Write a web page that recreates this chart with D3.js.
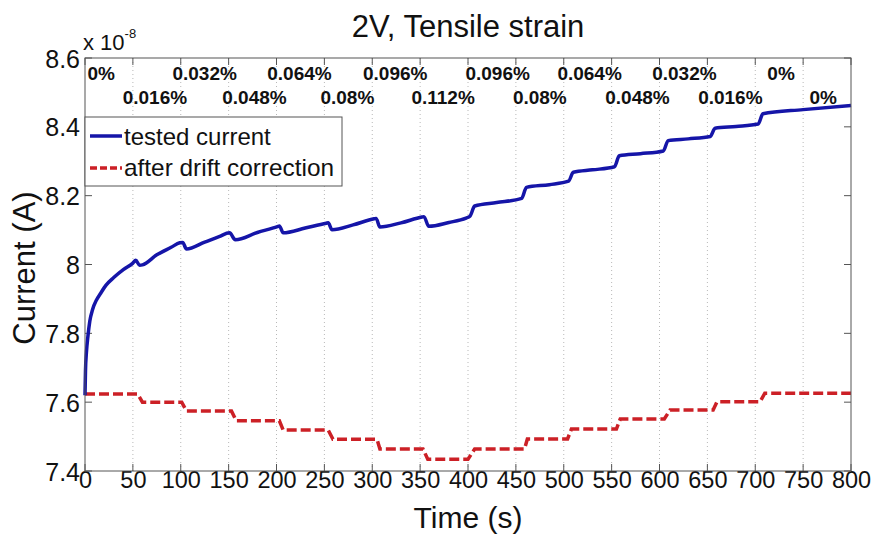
<!DOCTYPE html>
<html>
<head>
<meta charset="utf-8">
<script src="https://cdn.jsdelivr.net/npm/d3@7"></script>
<style>
  html, body { margin: 0; padding: 0; background: #fff; }
  svg { display: block; font-family: Arial, "Liberation Sans", Helvetica, sans-serif; }
</style>
</head>
<body>
<svg id="chart" width="874" height="537"></svg>
<script>
// ---- data (current in units of 1e-8 A, time in s) ----
const blueTime = [0, 0.5, 1.5, 3, 5, 8, 12, 16, 22, 30, 40, 50, 53, 57, 60, 75, 90, 99, 102, 106, 125, 140, 151, 157, 180, 201, 203, 207, 230, 252, 254, 258, 280, 302, 304, 308, 330, 352, 354, 359, 380, 398, 402, 407, 430, 456, 461, 485, 505, 510, 530, 553, 558, 580, 604, 609, 630, 653, 658, 680, 703, 708, 750, 800];
const blueCurrent = [7.62, 7.69, 7.745, 7.79, 7.835, 7.87, 7.897, 7.915, 7.94, 7.962, 7.985, 8.004, 8.012, 7.998, 7.999, 8.028, 8.05, 8.063, 8.064, 8.045, 8.065, 8.081, 8.092, 8.072, 8.093, 8.110, 8.112, 8.092, 8.106, 8.120, 8.121, 8.101, 8.115, 8.133, 8.134, 8.109, 8.121, 8.138, 8.139, 8.111, 8.122, 8.135, 8.140, 8.170, 8.180, 8.192, 8.224, 8.232, 8.242, 8.268, 8.275, 8.284, 8.316, 8.322, 8.330, 8.360, 8.365, 8.372, 8.396, 8.401, 8.408, 8.438, 8.450, 8.462];

const redTime = [0, 55, 60, 101, 106, 153, 158, 203, 207, 254, 259, 305, 308, 353, 358, 400, 407, 459, 462, 504, 508, 555, 559, 605, 611, 656, 660, 705, 710, 800];
const redCurrent = [7.624, 7.624, 7.600, 7.600, 7.574, 7.574, 7.546, 7.546, 7.519, 7.519, 7.492, 7.492, 7.464, 7.464, 7.434, 7.434, 7.464, 7.464, 7.493, 7.493, 7.522, 7.522, 7.551, 7.551, 7.577, 7.577, 7.601, 7.601, 7.626, 7.626];

const strainRow1Labels = ["0%", "0.032%", "0.064%", "0.096%", "0.096%", "0.064%", "0.032%", "0%"];
const strainRow1Time   = [17, 125, 224, 324, 431, 527, 626, 727];
const strainRow2Labels = ["0.016%", "0.048%", "0.08%", "0.112%", "0.08%", "0.048%", "0.016%", "0%"];
const strainRow2Time   = [73, 177, 274, 374, 475, 577, 674, 771];

const xTicks = [0, 50, 100, 150, 200, 250, 300, 350, 400, 450, 500, 550, 600, 650, 700, 750, 800];
const yTicks = [7.4, 7.6, 7.8, 8.0, 8.2, 8.4, 8.6];
const yTickLabels = ["7.4", "7.6", "7.8", "8", "8.2", "8.4", "8.6"];

const titleText = "2V, Tensile strain";
const xLabel = "Time (s)";
const yLabel = "Current (A)";
const seriesNames = ["tested current", "after drift correction"];

// ---- layout ----
const L = 85, R = 851, T = 58, B = 471;
const svg = d3.select("#chart");
const x = d3.scaleLinear().domain([0, 800]).range([L, R]);
const y = d3.scaleLinear().domain([7.4, 8.6]).range([B, T]);
const axisColor = "#555";

// grid (vertical dotted)
svg.append("g").selectAll("line")
  .data(xTicks.filter(d => d > 0 && d < 800))
  .join("line")
  .attr("x1", d => x(d)).attr("x2", d => x(d))
  .attr("y1", T).attr("y2", B)
  .attr("stroke", "#b8b8b8").attr("stroke-width", 1)
  .attr("stroke-dasharray", "1,3");

// axes with inward ticks
const bottomAxis = d3.axisBottom(x).tickValues(xTicks).tickSize(0).tickPadding(0).tickFormat(d3.format("d"));
const gB = svg.append("g").attr("transform", `translate(0,${B})`).call(bottomAxis);
gB.select(".domain").remove();
gB.selectAll("text").attr("y", 17).attr("dy", 0).attr("font-size", 23.5).attr("fill", "#111")
  .attr("font-family", "Arial, 'Liberation Sans', sans-serif");

const leftAxis = d3.axisLeft(y).tickValues(yTicks).tickSize(0).tickPadding(0)
  .tickFormat((d, i) => yTickLabels[i]);
const gL = svg.append("g").attr("transform", `translate(${L},0)`).call(leftAxis);
gL.select(".domain").remove();
gL.selectAll("text").attr("x", -5).attr("dy", "0.36em").attr("font-size", 25).attr("fill", "#111")
  .attr("font-family", "Arial, 'Liberation Sans', sans-serif");

// inward tick marks
const tickG = svg.append("g").attr("stroke", axisColor).attr("stroke-width", 1);
xTicks.forEach(d => {
  tickG.append("line").attr("x1", x(d)).attr("x2", x(d)).attr("y1", B).attr("y2", B - 7);
  tickG.append("line").attr("x1", x(d)).attr("x2", x(d)).attr("y1", T).attr("y2", T + 7);
});
yTicks.forEach(d => {
  tickG.append("line").attr("x1", L).attr("x2", L + 7).attr("y1", y(d)).attr("y2", y(d));
  tickG.append("line").attr("x1", R).attr("x2", R - 7).attr("y1", y(d)).attr("y2", y(d));
});

// data lines
const blueData = blueTime.map((t, i) => [t, blueCurrent[i]]);
const redData = redTime.map((t, i) => [t, redCurrent[i]]);
const line = d3.line().x(d => x(d[0])).y(d => y(d[1])).curve(d3.curveMonotoneX);
const lineLin = d3.line().x(d => x(d[0])).y(d => y(d[1]));

svg.append("path").datum(redData).attr("d", lineLin)
  .attr("fill", "none").attr("stroke", "#cc2026").attr("stroke-width", 3.5)
  .attr("stroke-dasharray", "10,4");
svg.append("path").datum(blueData).attr("d", line)
  .attr("fill", "none").attr("stroke", "#1515a8").attr("stroke-width", 3.5)
  .attr("stroke-linejoin", "round");

// plot box
svg.append("rect").attr("x", L).attr("y", T).attr("width", R - L).attr("height", B - T)
  .attr("fill", "none").attr("stroke", axisColor).attr("stroke-width", 1);

// strain annotations
const ann = svg.append("g").attr("font-weight", "bold").attr("font-size", 19)
  .attr("fill", "#111").attr("text-anchor", "middle");
strainRow1Labels.forEach((s, i) => {
  ann.append("text").attr("x", x(strainRow1Time[i])).attr("y", 80).text(s);
});
strainRow2Labels.forEach((s, i) => {
  ann.append("text").attr("x", x(strainRow2Time[i])).attr("y", 104).text(s);
});

// legend
const lg = svg.append("g");
lg.append("rect").attr("x", L).attr("y", 117).attr("width", 257).attr("height", 69)
  .attr("fill", "#fff").attr("stroke", axisColor).attr("stroke-width", 1);
lg.append("line").attr("x1", 90).attr("x2", 122).attr("y1", 136).attr("y2", 136)
  .attr("stroke", "#1515a8").attr("stroke-width", 3.5);
lg.append("line").attr("x1", 90).attr("x2", 122).attr("y1", 168).attr("y2", 168)
  .attr("stroke", "#cc2026").attr("stroke-width", 3.5).attr("stroke-dasharray", "7,3");
lg.append("text").attr("x", 124).attr("y", 145).attr("font-size", 24).attr("fill", "#111")
  .text(seriesNames[0]);
lg.append("text").attr("x", 124).attr("y", 176).attr("font-size", 24).attr("fill", "#111")
  .attr("textLength", 210).attr("lengthAdjust", "spacingAndGlyphs")
  .text(seriesNames[1]);

// exponent label
const ex = svg.append("text").attr("x", 83).attr("y", 50).attr("font-size", 22).attr("fill", "#111");
ex.append("tspan").text("x 10");
ex.append("tspan").attr("dy", -12).attr("font-size", 13).text("-8");

// title
svg.append("text").attr("x", (L + R) / 2).attr("y", 37).attr("text-anchor", "middle")
  .attr("font-size", 31).attr("fill", "#111").text(titleText);

// axis labels
svg.append("text").attr("x", (L + R) / 2).attr("y", 528).attr("text-anchor", "middle")
  .attr("font-size", 30).attr("fill", "#111").text(xLabel);
svg.append("text").attr("transform", `translate(35,268) rotate(-90)`).attr("text-anchor", "middle")
  .attr("font-size", 31).attr("fill", "#111").text(yLabel);
</script>
</body>
</html>
